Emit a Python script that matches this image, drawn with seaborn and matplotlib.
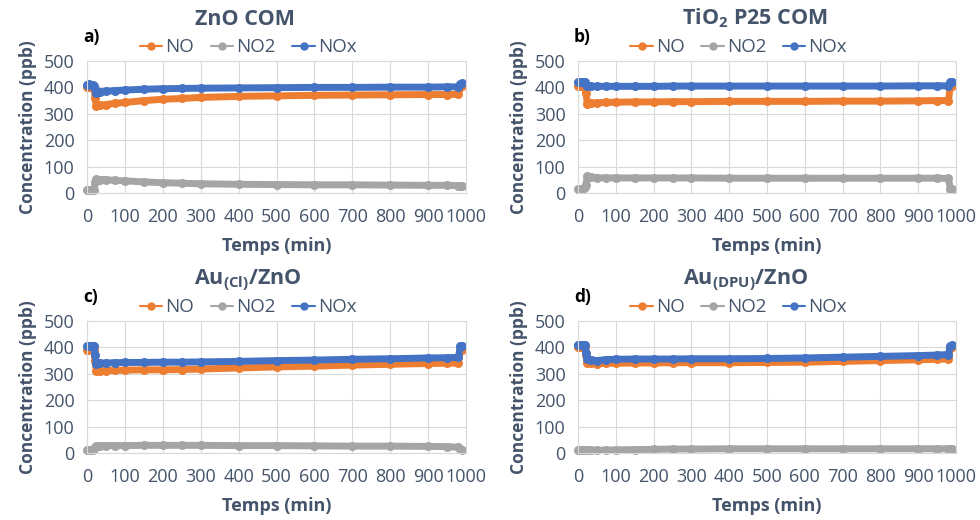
import numpy as np
import pandas as pd
import matplotlib
matplotlib.use("Agg")
import matplotlib.pyplot as plt
from matplotlib.lines import Line2D
import seaborn as sns

sns.set_theme(style="whitegrid")
plt.rcParams["font.family"] = ["Open Sans", "DejaVu Sans"]
plt.rcParams["mathtext.fontset"] = "custom"
plt.rcParams["mathtext.rm"] = "Open Sans"
plt.rcParams["mathtext.bf"] = "Open Sans:bold"

# time axis (min), same sampling read for all four panels
temps = [0, 5, 10, 15, 19, 21, 25, 35, 50, 75, 100, 150, 200, 250, 300,
         400, 500, 600, 700, 800, 900, 950, 980, 985, 990]

# a) ZnO COM
no_a = [400, 402, 401, 400, 398, 360, 330, 332, 335, 340, 343, 350, 355, 358, 362,
        366, 368, 370, 371, 372, 373, 373, 374, 400, 405]
nox_a = [410, 412, 410, 410, 405, 395, 380, 382, 385, 388, 390, 393, 395, 396, 397,
         398, 399, 400, 400, 401, 401, 402, 402, 412, 415]
no2_a = [10, 10, 11, 12, 12, 40, 52, 51, 50, 48, 46, 42, 39, 37, 35,
         33, 32, 31, 31, 30, 29, 29, 28, 28, 28]

# b) TiO2 P25 COM
no_b = [405, 405, 404, 404, 400, 380, 338, 340, 342, 343, 344, 345, 345, 346, 346,
        347, 347, 347, 348, 348, 349, 350, 350, 405, 405]
nox_b = [420, 420, 420, 420, 420, 410, 405, 404, 404, 404, 404, 404, 404, 405, 405,
         405, 405, 405, 405, 405, 406, 406, 406, 420, 420]
no2_b = [15, 15, 16, 18, 22, 32, 65, 60, 58, 57, 57, 57, 57, 57, 57,
         56, 56, 56, 56, 56, 56, 56, 55, 15, 15]

# c) Au(Cl)/ZnO
no_c = [392, 392, 393, 392, 392, 350, 310, 311, 312, 313, 314, 315, 315, 316, 318,
        322, 326, 329, 333, 336, 339, 340, 341, 392, 392]
nox_c = [405, 405, 406, 405, 405, 370, 338, 340, 341, 342, 343, 343, 344, 344, 345,
         347, 350, 352, 355, 357, 360, 361, 362, 405, 405]
no2_c = [12, 12, 12, 13, 15, 22, 27, 27, 28, 28, 28, 29, 29, 29, 29,
         28, 28, 27, 26, 26, 25, 24, 22, 15, 12]

# d) Au(DPU)/ZnO
no_d = [400, 400, 401, 400, 400, 370, 342, 340, 338, 340, 340, 341, 341, 342, 342,
        342, 343, 344, 347, 350, 353, 355, 356, 398, 402]
nox_d = [410, 410, 410, 410, 410, 380, 357, 353, 350, 354, 355, 356, 356, 356, 357,
         357, 358, 360, 363, 366, 369, 371, 373, 405, 408]
no2_d = [10, 10, 10, 10, 10, 10, 10, 10, 10, 11, 12, 13, 14, 15, 15,
         16, 16, 16, 16, 16, 16, 16, 16, 16, 16]

titles = ["ZnO COM", r"TiO$_\mathbf{2}$ P25 COM",
          r"Au$_\mathbf{(Cl)}$/ZnO", r"Au$_\mathbf{(DPU)}$/ZnO"]
letters = ["a)", "b)", "c)", "d)"]
series = [(no_a, no2_a, nox_a), (no_b, no2_b, nox_b),
          (no_c, no2_c, nox_c), (no_d, no2_d, nox_d)]
gases = ["NO", "NO2", "NOx"]
palette = {"NO": "#ED7D31", "NO2": "#A5A5A5", "NOx": "#4472C4"}
txt = "#44546A"

fig = plt.figure(figsize=(9.8, 5.2), dpi=100)
W, H = 980, 520
# plot area boxes in pixels: left, top, right, bottom
boxes = [(87, 61, 466, 193), (578, 61, 956, 193),
         (87, 321, 466, 453), (578, 321, 956, 453)]
title_x = [0.417, 0.468, 0.425, 0.444]

for i, (l, t, r, b) in enumerate(boxes):
    ax = fig.add_axes([l / W, 1 - b / H, (r - l) / W, (b - t) / H])
    no, no2, nox = series[i]
    df = pd.DataFrame({
        "t": temps * 3,
        "c": no + no2 + nox,
        "gas": ["NO"] * len(temps) + ["NO2"] * len(temps) + ["NOx"] * len(temps),
    })
    sns.lineplot(data=df, x="t", y="c", hue="gas", hue_order=gases, palette=palette,
                 marker="o", markersize=6.5, markeredgewidth=0, linewidth=5,
                 legend=False, ax=ax, clip_on=False)
    ax.set_xlim(0, 1000)
    ax.set_ylim(0, 500)
    ax.set_xticks(np.arange(0, 1001, 100))
    ax.set_yticks(np.arange(0, 501, 100))
    ax.grid(True, color="#D9D9D9", linewidth=0.8)
    for s in ax.spines.values():
        s.set_color("#D9D9D9")
        s.set_linewidth(0.8)
    ax.tick_params(axis="both", length=0, labelsize=13, colors=txt)
    ax.tick_params(axis="x", pad=11)
    ax.tick_params(axis="y", pad=9)
    ax.set_xlabel("Temps (min)", fontsize=13, fontweight="bold", color=txt, labelpad=8)
    ax.set_ylabel("Concentration (ppb)", fontsize=12.5, fontweight="bold", color=txt, labelpad=5)
    ax.set_title(titles[i], fontsize=15.5, fontweight="bold", color=txt, pad=26,
                 x=title_x[i], ha="center")
    ax.text(l - 4, H - (t - 24), letters[i], transform=None, fontsize=12.5,
            fontweight="bold", color="black", va="center", ha="left")
    handles = [Line2D([], [], color=palette[g], marker="o", markersize=5, linewidth=1.5)
               for g in gases]
    leg = ax.legend(handles, gases, loc="center", bbox_to_anchor=(0.425, 1.105),
                    ncol=3, frameon=False, fontsize=13.5, handlelength=1.2,
                    handletextpad=0.15, columnspacing=0.9, borderaxespad=0.0,
                    borderpad=0.0)
    for tx in leg.get_texts():
        tx.set_color(txt)

fig.savefig("out.png", dpi=100)
